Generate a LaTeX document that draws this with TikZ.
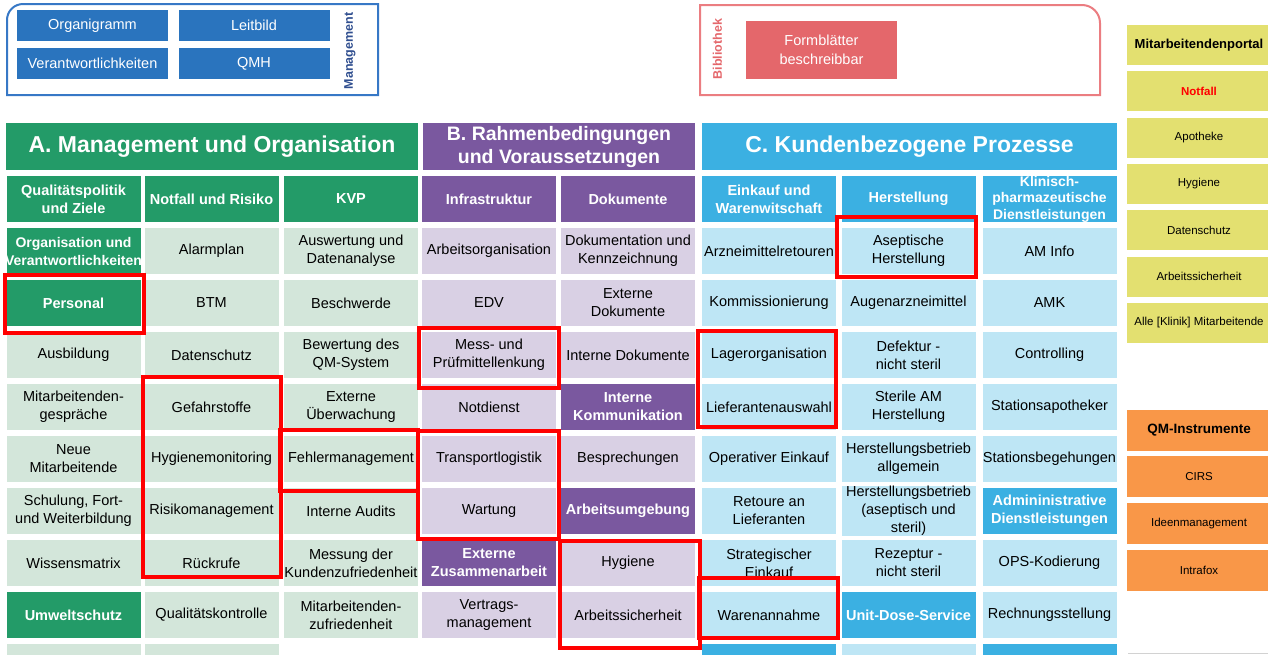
\documentclass[tikz,border=0pt]{standalone}
\usepackage{fontspec}
\setmainfont{Liberation Sans}
\usepackage{tikz}

\definecolor{agreen}{HTML}{239B68}
\definecolor{agreenl}{HTML}{D3E6DA}
\definecolor{bviolet}{HTML}{7A589F}
\definecolor{bvioletl}{HTML}{D9D0E4}
\definecolor{cblue}{HTML}{3BB0E2}
\definecolor{cbluel}{HTML}{BEE6F5}
\definecolor{portalyellow}{HTML}{E3E070}
\definecolor{qmorange}{HTML}{F99748}
\definecolor{mgmtblue}{HTML}{2A74BE}
\definecolor{mgmtline}{HTML}{3778C6}
\definecolor{mgmttext}{HTML}{2F4E8F}
\definecolor{biblred}{HTML}{E4676B}
\definecolor{biblline}{HTML}{EB7D81}

\tikzstyle{cell} = [rectangle, minimum width=134pt, minimum height=46pt, inner sep=0pt, align=center, font=\fontsize{14.5}{18}\selectfont]
\tikzstyle{headA} = [cell, fill=agreen, text=white, font=\fontsize{14.5}{18}\selectfont\bfseries]
\tikzstyle{itemA} = [cell, fill=agreenl]
\tikzstyle{headB} = [cell, fill=bviolet, text=white, font=\fontsize{14.5}{18}\selectfont\bfseries]
\tikzstyle{itemB} = [cell, fill=bvioletl]
\tikzstyle{headC} = [cell, fill=cblue, text=white, font=\fontsize{14.5}{18}\selectfont\bfseries]
\tikzstyle{itemC} = [cell, fill=cbluel]
\tikzstyle{title} = [rectangle, minimum height=47pt, inner sep=0pt, align=center, text=white, font=\fontsize{23}{27}\selectfont\bfseries]
\tikzstyle{button} = [rectangle, minimum width=151pt, minimum height=31pt, inner sep=0pt, fill=mgmtblue, text=white, font=\fontsize{14.5}{17}\selectfont]
\tikzstyle{side} = [rectangle, minimum width=144pt, minimum height=40pt, inner sep=0pt, font=\fontsize{11.5}{14}\selectfont]
\tikzstyle{redbox} = [draw=red, line width=4pt]

\begin{document}
\begin{tikzpicture}[x=1pt, y=-1pt, node distance=52pt]
    \useasboundingbox (0,0) rectangle (1268,654);

    %top frames
    \draw [mgmtline, line width=2pt] (7,95) -- (7,20) arc[start angle=180, end angle=90, radius=16pt] -- (378,4) -- (378,95) -- cycle;
    \node (organigramm) [button] at (92.5,25.5) {Organigramm};
    \node (leitbild) [button] at (254,25.5) {Leitbild};
    \node (verantw) [button] at (92.5,63.5) {Verantwortlichkeiten};
    \node (qmh) [button] at (254,63.5) {QMH};
    \node (mgmt) [rotate=90, text=mgmttext, font=\fontsize{12.5}{14}\selectfont\bfseries] at (350,51) {Management};

    \draw [biblline, line width=2pt] (700,95) -- (700,5) -- (1082,5) arc[start angle=90, end angle=0, radius=18pt] -- (1100,95) -- cycle;
    \node (bibl) [rotate=90, text=biblred, font=\fontsize{12.5}{14}\selectfont\bfseries] at (717.5,49) {Bibliothek};
    \node (formbl) [rectangle, minimum width=151pt, minimum height=58pt, fill=biblred, text=white, align=center, font=\fontsize{14.5}{19}\selectfont] at (821.5,49.5) {Formblätter\\beschreibbar};

    %titles
    \node (titleA) [title, fill=agreen, minimum width=412pt] at (212,146.5) {A. Management und Organisation};
    \node (titleB) [title, fill=bviolet, minimum width=272pt, font=\fontsize{19.5}{23}\selectfont\bfseries] at (559,146.5) {B. Rahmenbedingungen\\und Voraussetzungen};
    \node (titleC) [title, fill=cblue, minimum width=415pt] at (909.5,146.5) {C. Kundenbezogene Prozesse};

    %column A
    \node (a1s) [headA] at (73.5,199) {Qualitätspolitik\\und Ziele};
    \node (a1r1) [headA, below of=a1s, font=\fontsize{14}{18}\selectfont\bfseries] {Organisation und\\\makebox[134pt]{Verantwortlichkeiten}};
    \node (a1r2) [headA, below of=a1r1] {Personal};
    \node (a1r3) [itemA, below of=a1r2] {Ausbildung};
    \node (a1r4) [itemA, below of=a1r3] {Mitarbeitenden-\\gespräche};
    \node (a1r5) [itemA, below of=a1r4] {Neue\\Mitarbeitende};
    \node (a1r6) [itemA, below of=a1r5] {Schulung, Fort-\\und Weiterbildung};
    \node (a1r7) [itemA, below of=a1r6] {Wissensmatrix};
    \node (a1r8) [headA, below of=a1r7] {Umweltschutz};
    \node (a1r9) [itemA, below of=a1r8] {};

    \node (a2s) [headA] at (211.5,199) {Notfall und Risiko};
    \node (a2r1) [itemA, below of=a2s] {Alarmplan};
    \node (a2r2) [itemA, below of=a2r1] {BTM};
    \node (a2r3) [itemA, below of=a2r2] {Datenschutz};
    \node (a2r4) [itemA, below of=a2r3] {Gefahrstoffe};
    \node (a2r5) [itemA, below of=a2r4] {Hygienemonitoring};
    \node (a2r6) [itemA, below of=a2r5] {Risikomanagement};
    \node (a2r7) [itemA, below of=a2r6] {Rückrufe};
    \node (a2r8) [itemA, below of=a2r7] {Qualitätskontrolle};
    \node (a2r9) [itemA, below of=a2r8] {};

    \node (a3s) [headA] at (351,199) {KVP};
    \node (a3r1) [itemA, below of=a3s] {Auswertung und\\Datenanalyse};
    \node (a3r2) [itemA, below of=a3r1] {Beschwerde};
    \node (a3r3) [itemA, below of=a3r2] {Bewertung des\\QM-System};
    \node (a3r4) [itemA, below of=a3r3] {Externe\\Überwachung};
    \node (a3r5) [itemA, below of=a3r4] {Fehlermanagement};
    \node (a3r6) [itemA, below of=a3r5] {Interne Audits};
    \node (a3r7) [itemA, below of=a3r6] {Messung der\\\makebox[134pt]{Kundenzufriedenheit}};
    \node (a3r8) [itemA, below of=a3r7] {Mitarbeitenden-\\zufriedenheit};

    %column B
    \node (b1s) [headB] at (489,199) {Infrastruktur};
    \node (b1r1) [itemB, below of=b1s] {Arbeitsorganisation};
    \node (b1r2) [itemB, below of=b1r1] {EDV};
    \node (b1r3) [itemB, below of=b1r2] {Mess- und\\Prüfmittellenkung};
    \node (b1r4) [itemB, below of=b1r3] {Notdienst};
    \node (b1r5) [itemB, below of=b1r4] {Transportlogistik};
    \node (b1r6) [itemB, below of=b1r5] {Wartung};
    \node (b1r7) [headB, below of=b1r6] {Externe\\Zusammenarbeit};
    \node (b1r8) [itemB, below of=b1r7] {Vertrags-\\management};

    \node (b2s) [headB] at (628,199) {Dokumente};
    \node (b2r1) [itemB, below of=b2s] {Dokumentation und\\Kennzeichnung};
    \node (b2r2) [itemB, below of=b2r1] {Externe\\Dokumente};
    \node (b2r3) [itemB, below of=b2r2] {Interne Dokumente};
    \node (b2r4) [headB, below of=b2r3] {Interne\\Kommunikation};
    \node (b2r5) [itemB, below of=b2r4] {Besprechungen};
    \node (b2r6) [headB, below of=b2r5] {Arbeitsumgebung};
    \node (b2r7) [itemB, below of=b2r6] {Hygiene};
    \node (b2r8) [itemB, below of=b2r7] {Arbeitssicherheit};

    %column C
    \node (c1s) [headC] at (769,199) {Einkauf und\\Warenwitschaft};
    \node (c1r1) [itemC, below of=c1s] {Arzneimittelretouren};
    \node (c1r2) [itemC, below of=c1r1] {Kommissionierung};
    \node (c1r3) [itemC, below of=c1r2] {Lagerorganisation};
    \node (c1r4) [itemC, below of=c1r3] {Lieferantenauswahl};
    \node (c1r5) [itemC, below of=c1r4] {Operativer Einkauf};
    \node (c1r6) [itemC, below of=c1r5] {Retoure an\\Lieferanten};
    \node (c1r7) [itemC, below of=c1r6] {Strategischer\\Einkauf};
    \node (c1r8) [itemC, below of=c1r7] {Warenannahme};
    \node (c1r9) [headC, below of=c1r8] {};

    \node (c2s) [headC] at (908.5,199) {Herstellung};
    \node (c2r1) [itemC, below of=c2s] {Aseptische\\Herstellung};
    \node (c2r2) [itemC, below of=c2r1] {Augenarzneimittel};
    \node (c2r3) [itemC, below of=c2r2] {Defektur -\\nicht steril};
    \node (c2r4) [itemC, below of=c2r3] {Sterile AM\\Herstellung};
    \node (c2r5) [itemC, below of=c2r4] {Herstellungsbetrieb\\allgemein};
    \node (c2r6) [itemC, below of=c2r5] {Herstellungsbetrieb\\(aseptisch und\\steril)};
    \node (c2r7) [itemC, below of=c2r6] {Rezeptur -\\nicht steril};
    \node (c2r8) [headC, below of=c2r7] {Unit-Dose-Service};
    \node (c2r9) [itemC, below of=c2r8] {};

    \node (c3s) [headC, font=\fontsize{14}{16.5}\selectfont\bfseries] at (1049.5,199) {Klinisch-\\pharmazeutische\\Dienstleistungen};
    \node (c3r1) [itemC, below of=c3s] {AM Info};
    \node (c3r2) [itemC, below of=c3r1] {AMK};
    \node (c3r3) [itemC, below of=c3r2] {Controlling};
    \node (c3r4) [itemC, below of=c3r3] {Stationsapotheker};
    \node (c3r5) [itemC, below of=c3r4] {\makebox[134pt]{Stationsbegehungen}};
    \node (c3r6) [headC, below of=c3r5] {Admininistrative\\Dienstleistungen};
    \node (c3r7) [itemC, below of=c3r6] {OPS-Kodierung};
    \node (c3r8) [itemC, below of=c3r7] {Rechnungsstellung};
    \node (c3r9) [headC, below of=c3r8] {};

    %side panel
    \begin{scope}[node distance=46.3pt]
    \node (portal) [side, fill=portalyellow, font=\fontsize{13}{15}\selectfont\bfseries] at (1199,45) {Mitarbeitendenportal};
    \node (notfall) [side, fill=portalyellow, below of=portal, text=red, font=\fontsize{11.5}{14}\selectfont\bfseries] {Notfall};
    \node (apotheke) [side, fill=portalyellow, below of=notfall] {Apotheke};
    \node (hygiene) [side, fill=portalyellow, below of=apotheke] {Hygiene};
    \node (datensch) [side, fill=portalyellow, below of=hygiene] {Datenschutz};
    \node (arbsich) [side, fill=portalyellow, below of=datensch] {Arbeitssicherheit};
    \node (alle) [side, fill=portalyellow, below of=arbsich] {Alle [Klinik] Mitarbeitende};
    \end{scope}

    \begin{scope}[node distance=46.7pt]
    \node (qminstr) [side, fill=qmorange, minimum height=41pt, font=\fontsize{13.5}{15}\selectfont\bfseries] at (1199,430) {QM-Instrumente};
    \node (cirs) [side, fill=qmorange, minimum height=41pt, below of=qminstr] {CIRS};
    \node (ideen) [side, fill=qmorange, minimum height=41pt, below of=cirs] {Ideenmanagement};
    \node (intrafox) [side, fill=qmorange, minimum height=41pt, below of=ideen] {Intrafox};
    \end{scope}
    \draw [gray!35, line width=1pt] (1128,653) -- (1268,653);

    %red marks
    \draw [redbox] (5,275) rectangle (144,333);
    \draw [redbox] (142.5,377) rectangle (281,577);
    \draw [redbox] (280,430) rectangle (418,490.5);
    \draw [redbox] (419,328) rectangle (558.5,388);
    \draw [redbox] (418,430.5) rectangle (558.5,538.5);
    \draw [redbox] (560,540.5) rectangle (699.5,648);
    \draw [redbox] (698,330.5) rectangle (835.5,427);
    \draw [redbox] (699,578) rectangle (837.5,637.5);
    \draw [redbox] (836.5,217) rectangle (976,277);

\end{tikzpicture}
\end{document}
